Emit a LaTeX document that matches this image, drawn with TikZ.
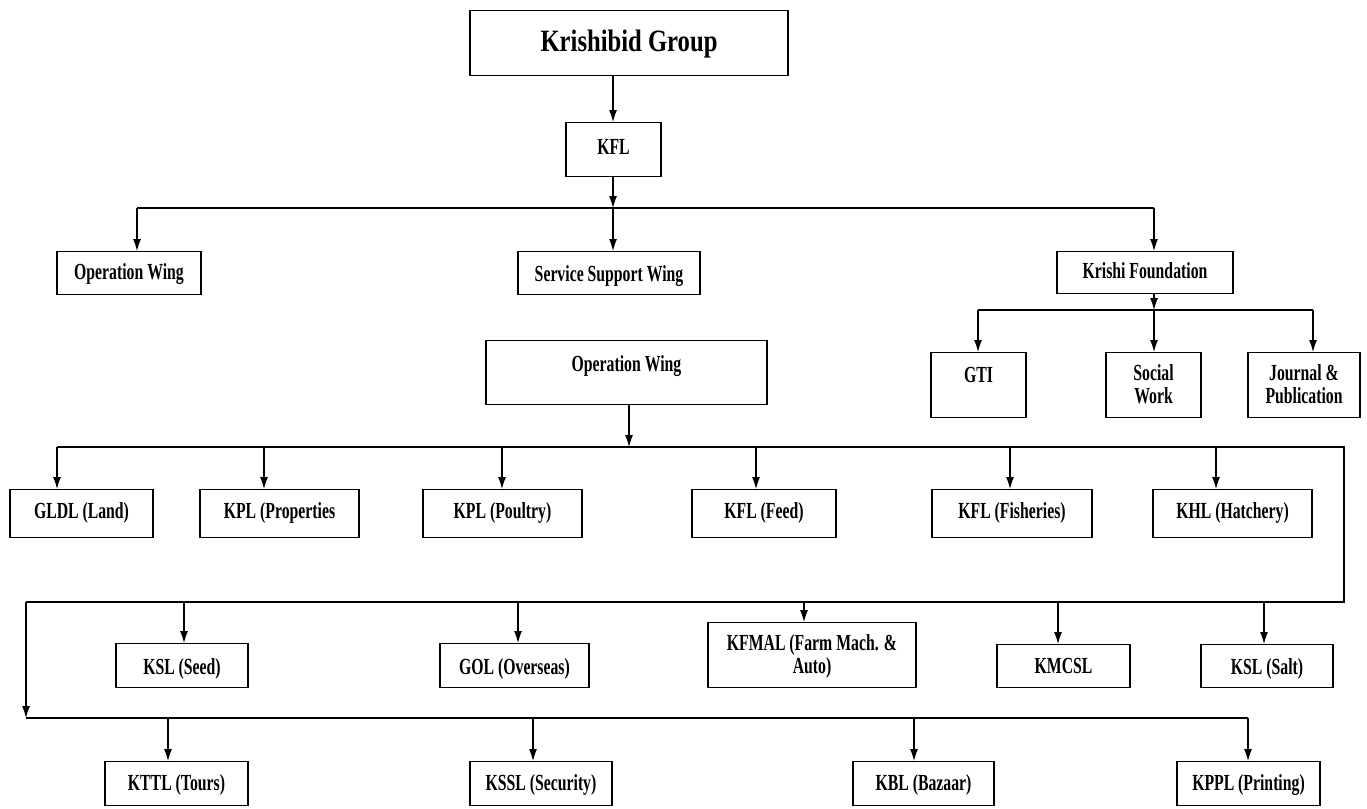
\documentclass[tikz,border=0pt]{standalone}
\usepackage{fontspec}
\setmainfont{Liberation Serif}[FakeStretch=0.685]
\newfontfamily\groupfont{Liberation Serif}[FakeStretch=0.795]
\usetikzlibrary{arrows.meta}

\tikzset{
  unit/.style={draw, line width=1.3pt, anchor=north, inner sep=0pt,
    font=\fontsize{23}{23}\selectfont\bfseries},
  row2/.style={unit, text height=29pt, text depth=19pt},
  row3/.style={unit, text height=31pt, text depth=13pt},
  arr/.style={line width=1.1pt, -{Latex[length=12pt,width=8pt]}},
  bus/.style={line width=1.1pt},
}

\begin{document}
\begin{tikzpicture}[x=1pt,y=-1pt]
\useasboundingbox (0,0) rectangle (1367,808);

\node[unit, minimum width=318pt, text height=41pt, text depth=24pt,
  font=\fontsize{31}{33}\groupfont\bfseries] (group) at (629,10) {Krishibid Group};
\node[unit, minimum width=95pt, text height=32pt, text depth=22pt] (kfl) at (613.5,122) {KFL};

\node[unit, minimum width=144pt, text height=28pt, text depth=15pt] (opw1) at (129,251) {Operation Wing};
\node[unit, minimum width=182pt, text height=30pt, text depth=13pt] (ssw) at (609,251) {Service Support Wing};
\node[unit, minimum width=176pt, text height=27pt, text depth=15pt] (kf) at (1145,251) {Krishi Foundation};

\node[unit, minimum width=95pt, text height=30pt, text depth=35pt] (gti) at (978.5,352) {GTI};
\node[unit, align=center, minimum width=95pt, text height=51pt, text depth=14pt] (sw) at (1153.5,352) {Social\\Work};
\node[unit, align=center, minimum width=112pt, text height=51pt, text depth=14pt] (jp) at (1304,352) {Journal \&\\Publication};

\node[unit, minimum width=281pt, text height=31pt, text depth=33pt] (opw2) at (626.5,340) {Operation Wing};

\node[row2, minimum width=143pt] (gldl) at (81.5,489) {GLDL (Land)};
\node[row2, minimum width=159pt] (kplp) at (279.5,489) {KPL (Properties};
\node[row2, minimum width=159pt] (poul) at (502.5,489) {KPL (Poultry)};
\node[row2, minimum width=144pt] (feed) at (764,489) {KFL (Feed)};
\node[row2, minimum width=160pt] (fish) at (1012,489) {KFL (Fisheries)};
\node[row2, minimum width=159pt] (hat) at (1232.5,489) {KHL (Hatchery)};

\node[row3, minimum width=132pt] (seed) at (182,643) {KSL (Seed)};
\node[row3, minimum width=149pt] (gol) at (514.5,643) {GOL (Overseas)};
\node[unit, align=center, minimum width=208pt, text height=51pt, text depth=14pt] (kfmal) at (812,622) {KFMAL (Farm Mach. \&\\Auto)};
\node[row3, minimum width=133pt, text height=29pt, text depth=14pt] (kmcsl) at (1063.5,644) {KMCSL};
\node[row3, minimum width=132pt, text height=30pt, text depth=13pt] (salt) at (1267,644) {KSL (Salt)};

\node[unit, minimum width=143pt, text height=29pt, text depth=15pt] (kttl) at (176.5,761) {KTTL (Tours)};
\node[unit, minimum width=142pt, text height=29pt, text depth=15pt] (kssl) at (541,761) {KSSL (Security)};
\node[unit, minimum width=141pt, text height=29pt, text depth=15pt] (kbl) at (923.5,761) {KBL (Bazaar)};
\node[unit, minimum width=143pt, text height=29pt, text depth=15pt] (kppl) at (1248.5,761) {KPPL (Printing)};

% top part
\coordinate (kfl-out) at (613,208);
\coordinate (opw1-in) at (137,208);
\coordinate (kf-in) at (1154,208);
\draw[arr] (group.south -| kfl-out) -- (kfl.north -| kfl-out);
\draw[arr] (kfl.south -| kfl-out) -- (kfl-out);
\draw[bus] (opw1-in) -- (kf-in);
\draw[arr] (opw1-in) -- (opw1-in |- opw1.north);
\draw[arr] (kfl-out) -- (kfl-out |- ssw.north);
\draw[arr] (kf-in) -- (kf-in |- kf.north);

% foundation
\coordinate (kf-out) at (1154,310);
\coordinate (gti-in) at (978,310);
\coordinate (jp-in) at (1313,310);
\draw[arr] (kf.south -| kf-out) -- (kf-out);
\draw[bus] (gti-in) -- (jp-in);
\draw[arr] (gti-in) -- (gti-in |- gti.north);
\draw[arr] (kf-out) -- (kf-out |- sw.north);
\draw[arr] (jp-in) -- (jp-in |- jp.north);

% operation wing
\coordinate (opw2-out) at (629,447);
\coordinate (c-right) at (1344,447);
\coordinate (d-right) at (1344,602);
\coordinate (d-left) at (26,602);
\coordinate (e-left) at (26,718);
\draw[arr] (opw2.south -| opw2-out) -- (opw2-out);
\foreach \n/\x in {gldl/57, kplp/264, poul/502, feed/756, fish/1010, hat/1216}
  {\coordinate (\n-in) at (\x,447);
   \draw[arr] (\n-in) -- (\n-in |- \n.north);}
\foreach \n/\x in {seed/184, gol/518, kfmal/804, kmcsl/1058, salt/1264}
  {\coordinate (\n-in) at (\x,602);
   \draw[arr] (\n-in) -- (\n-in |- \n.north);}
\foreach \n/\x in {kttl/168, kssl/533, kbl/914, kppl/1248}
  {\coordinate (\n-in) at (\x,718);
   \draw[arr] (\n-in) -- (\n-in |- \n.north);}
\draw[bus] (gldl-in) -- (c-right) -- (d-right) -- (d-left);
\draw[arr] (d-left) -- (e-left);
\draw[bus] (e-left) -- (kppl-in);

\end{tikzpicture}
\end{document}
